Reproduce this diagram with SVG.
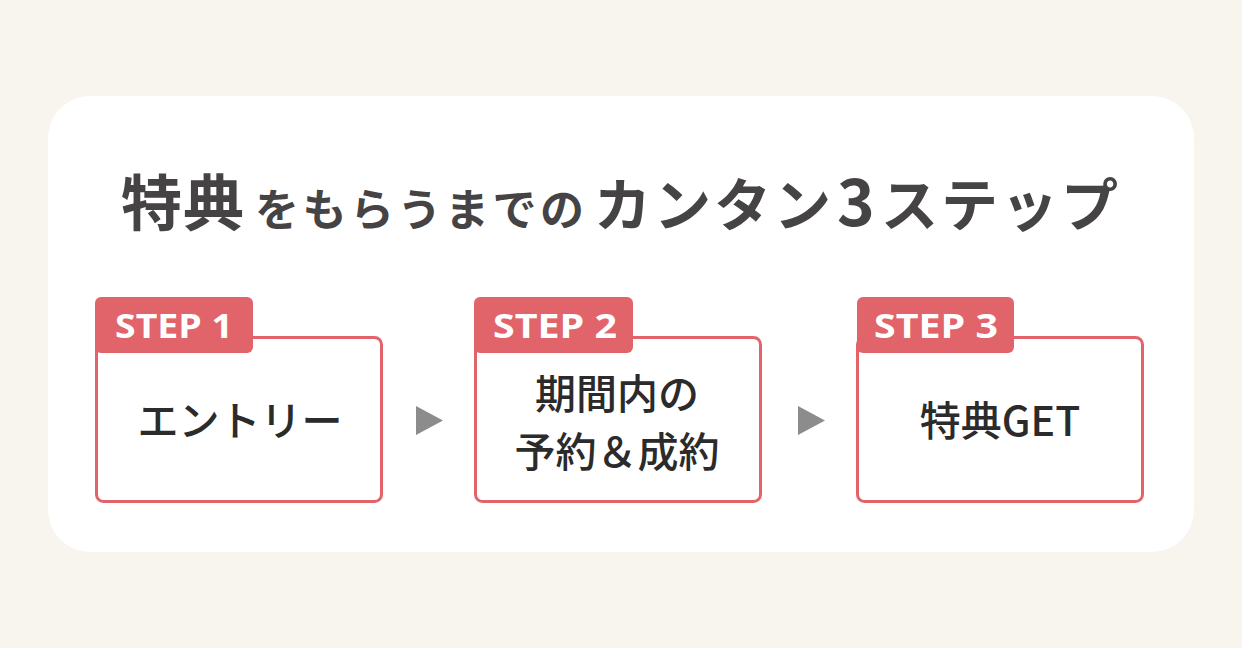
<svg xmlns="http://www.w3.org/2000/svg" width="1242" height="648" viewBox="0 0 1242 648">
<style>
.title{font-family:"Noto Sans CJK JP","Noto Sans",sans-serif;font-weight:700;fill:#454343}
.tab{fill:#E2646B}
.box{fill:#fff;stroke:#E2646B;stroke-width:3}
.step{font-family:"Open Sans","Noto Sans",sans-serif;font-weight:700;font-size:34px;fill:#fff}
.lbl{font-family:"Noto Sans CJK JP","Noto Sans",sans-serif;font-weight:500;font-size:41px;fill:#2b2b2b;text-anchor:middle}
.arr{fill:#8c8c8c}
</style>
<rect width="1242" height="648" fill="#F8F5EE"/>
<rect x="48" y="96" width="1146" height="456" rx="42" fill="#fff"/>
<g id="title">
<text class="title" y="226"><tspan x="121" font-size="61" letter-spacing="1">特典</tspan><tspan x="255" font-size="44" letter-spacing="3.5">をもらうまでの</tspan><tspan x="594" font-size="57" letter-spacing="3">カンタン</tspan><tspan x="837" font-size="64">3</tspan><tspan x="881" font-size="57" letter-spacing="3">ステップ</tspan></text>
</g>
<g id="step1">
<rect class="box" x="96.5" y="337.5" width="285" height="164" rx="7"/>
<rect class="tab" x="95" y="297" width="158" height="56" rx="6"/>
<text class="step" x="115" y="338" textLength="118" lengthAdjust="spacingAndGlyphs">STEP 1</text>
<text class="lbl" x="240" y="436">エントリー</text>
</g>
<g id="step2">
<rect class="box" x="475.5" y="337.5" width="285" height="164" rx="7"/>
<rect class="tab" x="474" y="297" width="159" height="56" rx="6"/>
<text class="step" x="493" y="338" textLength="124" lengthAdjust="spacingAndGlyphs">STEP 2</text>
<text class="lbl" x="617" y="409" font-size="40">期間内の</text>
<text class="lbl" x="617" y="467" font-size="40">予約＆成約</text>
</g>
<g id="step3">
<rect class="box" x="857.5" y="337.5" width="285" height="164" rx="7"/>
<rect class="tab" x="857" y="297" width="157" height="56" rx="6"/>
<text class="step" x="874" y="338" textLength="124" lengthAdjust="spacingAndGlyphs">STEP 3</text>
<text class="lbl" x="1000" y="436">特典GET</text>
</g>
<g id="connectors">
<polygon class="arr" points="416,406 443,420.5 416,435"/>
<polygon class="arr" points="798,406 825,420.5 798,435"/>
</g>
</svg>
